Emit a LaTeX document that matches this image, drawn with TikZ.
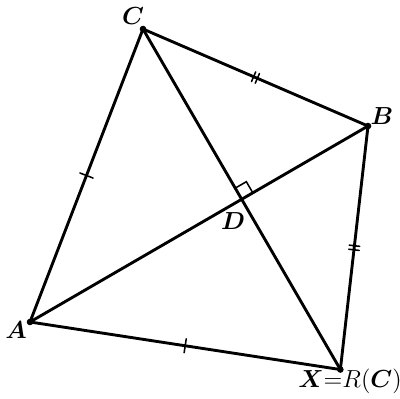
\documentclass[tikz,border=0pt]{standalone}
\usepackage{amsmath,amssymb,bm}
\usepackage{tikz}
\usetikzlibrary{calc,decorations.markings}
\definecolor{figline}{RGB}{0,0,0}
\tikzset{
  sg/.style  ={draw=figline, line width=1.4pt, line cap=round},
  tk/.style  ={draw=figline, line width=0.75pt},
  lab/.style ={font=\fontsize{11.5}{14}\selectfont, inner sep=1pt},
  dt/.style  ={fill=figline, radius=1.6pt},
  tka/.style ={postaction={decorate}, decoration={markings,
      mark=at position 0.5 with {\draw[tk] (0,-0.12) -- (0,0.12);}}},
  tkb/.style ={postaction={decorate}, decoration={markings,
      mark=at position 0.5 with {\draw[tk] (-0.035,-0.09) -- (-0.035,0.09);
                                 \draw[tk] (0.035,-0.09) -- (0.035,0.09);}}},
}
\begin{document}
\begin{tikzpicture}[scale=1]
  \useasboundingbox (0,0) rectangle (6.84,6.806);
  % vertices, X is C reflected in AB
  \coordinate (A) at (0.513,1.300);
  \coordinate (B) at (6.293,4.651);
  \coordinate (C) at (2.445,6.310);
  \coordinate (D) at ($(A)!(C)!(B)$);
  \coordinate (X) at ($(C)!2!(D)$);
  % sides
  \draw[sg,tka] (A) -- (C);
  \draw[sg,tkb] (C) -- (B);
  \draw[sg,tkb] (B) -- (X);
  \draw[sg,tka] (X) -- (A);
  % diagonals
  \draw[sg] (A) -- (B);
  \draw[sg] (C) -- (X);
  % right angle at D
  \coordinate (Dc) at ($(D)!0.22cm!(C)$);
  \coordinate (Db) at ($(D)!0.22cm!(B)$);
  \draw[tk] (Dc) -- ($(Dc)+(Db)-(D)$) -- (Db);
  \fill[dt] (A) circle;
  \fill[dt] (B) circle;
  \fill[dt] (C) circle;
  \fill[dt] (X) circle;
  \node[lab] (lA) at (0.274,1.163) {$\bm{A}$};
  \node[lab] (lB) at (6.532,4.822) {$\bm{B}$};
  \node[lab] (lC) at (2.274,6.532) {$\bm{C}$};
  \node[lab] (lD) at (3.984,3.027) {$\bm{D}$};
  \node[lab] (lX) at (5.985,0.291) {$\bm{X}{=}R(\bm{C})$};
\end{tikzpicture}
\end{document}
